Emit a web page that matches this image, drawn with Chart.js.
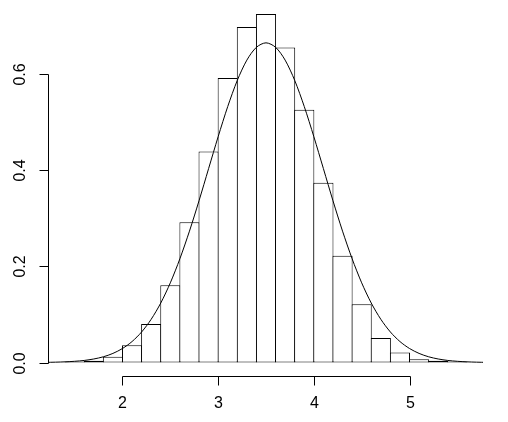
<!DOCTYPE html>
<html>
<head>
<meta charset="utf-8">
<script src="https://cdn.jsdelivr.net/npm/chart.js@4/dist/chart.umd.min.js"></script>
<style>
  body { margin: 0; background: #fff; }
</style>
</head>
<body>
<canvas id="histChart" width="508" height="422"></canvas>
<script>
// histogram bins (width 0.2) and densities
const binCenters = [1.5, 1.7, 1.9, 2.1, 2.3, 2.5, 2.7, 2.9, 3.1, 3.3, 3.5,
                    3.7, 3.9, 4.1, 4.3, 4.5, 4.7, 4.9, 5.1, 5.3, 5.5];
const densities = [0.002, 0.004, 0.012, 0.036, 0.080, 0.161, 0.292, 0.439, 0.592, 0.698, 0.725,
                   0.655, 0.526, 0.374, 0.222, 0.121, 0.051, 0.021, 0.007, 0.004, 0.002];

// density curve, sampled every 0.1
const curveX = [1.2, 1.3, 1.4, 1.5, 1.6, 1.7, 1.8, 1.9, 2.0, 2.1, 2.2, 2.3, 2.4, 2.5, 2.6, 2.7,
                2.8, 2.9, 3.0, 3.1, 3.2, 3.3, 3.4, 3.5, 3.6, 3.7, 3.8, 3.9, 4.0, 4.1, 4.2, 4.3,
                4.4, 4.5, 4.6, 4.7, 4.8, 4.9, 5.0, 5.1, 5.2, 5.3, 5.4, 5.5, 5.6, 5.7, 5.8];
const curveY = [0.0004, 0.0008, 0.0015, 0.0026, 0.0044, 0.0074, 0.0120, 0.0190, 0.0292, 0.0437,
                0.0636, 0.0900, 0.1238, 0.1658, 0.2159, 0.2733, 0.3365, 0.4033, 0.4698, 0.5324,
                0.5868, 0.6290, 0.6557, 0.6649, 0.6557, 0.6290, 0.5868, 0.5324, 0.4698, 0.4033,
                0.3365, 0.2733, 0.2159, 0.1658, 0.1238, 0.0900, 0.0636, 0.0437, 0.0292, 0.0190,
                0.0120, 0.0074, 0.0044, 0.0026, 0.0015, 0.0008, 0.0004];

const xTicks = [2, 3, 4, 5];
const xTickLabels = ["2", "3", "4", "5"];
const yTicks = [0, 0.2, 0.4, 0.6];
const yTickLabels = ["0.0", "0.2", "0.4", "0.6"];

// R style axes: detached lines that only span the tick range
const rAxes = {
    id: "rAxes",
    afterDraw(chart) {
        const ctx = chart.ctx;
        const xs = chart.scales.x;
        const ys = chart.scales.y;
        const area = chart.chartArea;
        const tick = 9;

        ctx.save();
        ctx.strokeStyle = "#000";
        ctx.fillStyle = "#000";
        ctx.lineWidth = 1;
        ctx.font = "16px 'Liberation Sans', Arial, sans-serif";

        // y axis
        const ax = Math.round(area.left) - 0.5;
        const py = v => Math.round(ys.getPixelForValue(v)) + 0.5;
        ctx.beginPath();
        ctx.moveTo(ax, py(yTicks[0]));
        ctx.lineTo(ax, py(yTicks[yTicks.length - 1]));
        yTicks.forEach(v => {
            ctx.moveTo(ax - tick, py(v));
            ctx.lineTo(ax, py(v));
        });
        ctx.stroke();
        ctx.textAlign = "center";
        ctx.textBaseline = "middle";
        yTicks.forEach((v, i) => {
            ctx.save();
            ctx.translate(21, py(v));
            ctx.rotate(-Math.PI / 2);
            ctx.fillText(yTickLabels[i], 0, 0);
            ctx.restore();
        });

        // x axis
        const ay = Math.floor(area.bottom) + 0.5;
        const px = v => Math.round(xs.getPixelForValue(v)) + 0.5;
        ctx.beginPath();
        ctx.moveTo(px(xTicks[0]), ay);
        ctx.lineTo(px(xTicks[xTicks.length - 1]), ay);
        xTicks.forEach(v => {
            ctx.moveTo(px(v), ay);
            ctx.lineTo(px(v), ay + tick);
        });
        ctx.stroke();
        xTicks.forEach((v, i) => {
            ctx.fillText(xTickLabels[i], px(v), 404);
        });
        ctx.restore();
    }
};

new Chart(document.getElementById("histChart"), {
    type: "bar",
    data: {
        datasets: [
            {
                type: "line",
                data: curveX.map((x, i) => ({ x: x, y: curveY[i] })),
                borderColor: "#000",
                borderWidth: 1,
                pointRadius: 0,
                tension: 0.3,
                fill: false,
                order: 0
            },
            {
                type: "bar",
                data: binCenters.map((x, i) => ({ x: x, y: densities[i] })),
                backgroundColor: "#fff",
                borderColor: "#000",
                borderWidth: 1,
                borderSkipped: false,
                // bars a touch wider than the bin so neighbouring outlines share one line
                barPercentage: 1.052,
                categoryPercentage: 1,
                inflateAmount: 0,
                order: 1
            }
        ]
    },
    options: {
        responsive: false,
        animation: false,
        layout: { padding: { left: 49, right: 25, top: 0, bottom: 45.5 } },
        plugins: { legend: { display: false }, tooltip: { enabled: false } },
        scales: {
            x: { type: "linear", min: 1.232, max: 5.768, offset: false, display: false },
            y: { type: "linear", min: -0.029, max: 0.754, display: false }
        }
    },
    plugins: [rAxes]
});
</script>
</body>
</html>
